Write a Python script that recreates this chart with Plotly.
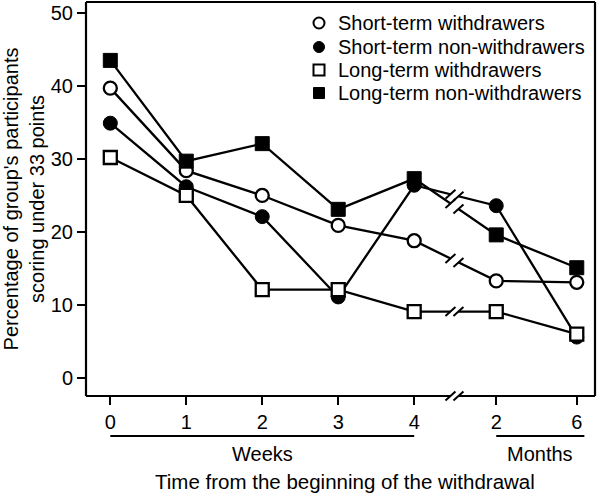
import plotly.graph_objects as go

# ---- data ----
tick_labels = ["0", "1", "2", "3", "4", "2", "6"]
x_pos = [0, 1, 2, 3, 4, 5.08, 6.14]          # axis positions (broken axis)
series_names = ["Short-term withdrawers", "Short-term non-withdrawers",
                "Long-term withdrawers", "Long-term non-withdrawers"]
short_withdrawers = [39.7, 28.4, 25.0, 20.9, 18.8, 13.3, 13.1]
short_non_withdrawers = [34.9, 26.2, 22.1, 11.1, 26.4, 23.6, 5.6]
long_withdrawers = [30.2, 25.0, 12.1, 12.1, 9.1, 9.1, 6.0]
long_non_withdrawers = [43.5, 29.7, 32.1, 23.1, 27.3, 19.6, 15.1]

series = [short_withdrawers, short_non_withdrawers, long_withdrawers, long_non_withdrawers]
symbols = ["circle", "circle", "square", "square"]
fills = ["white", "black", "white", "black"]

FONT = "Liberation Sans, Arial, sans-serif"
FS = 20
XR = [-0.32, 6.38]
YR = [-2.47, 51.5]
W, H = 600, 493
ML, MR, MT, MB = 86, 5, 2, 97
PW, PH = W - ML - MR, H - MT - MB
BREAK_X = 4.53

def px(xd):
    return (xd - XR[0]) / (XR[1] - XR[0])

def py(yd):
    return (yd - YR[0]) / (YR[1] - YR[0])

def ppx(p):   # pixel x -> paper
    return (p - ML) / PW

def ppy(p):   # pixel y -> paper
    return (H - MB - p) / PH

fig = go.Figure()
for name, vals, sym, fc in zip(series_names, series, symbols, fills):
    fig.add_trace(go.Scatter(
        x=x_pos, y=vals, mode="lines+markers", showlegend=False, name=name,
        line=dict(color="black", width=2.3),
        marker=dict(symbol=sym, size=13 if fc == "white" else 14, color=fc,
                    line=dict(color="black", width=2.3 if fc == "white" else 1)),
        cliponaxis=False))

shapes = []
frame = dict(type="line", xref="paper", yref="paper", line=dict(color="black", width=2.2))
shapes.append(dict(frame, x0=0, y0=0, x1=0, y1=1))
shapes.append(dict(frame, x0=0, y0=1, x1=1, y1=1))
shapes.append(dict(frame, x0=1, y0=0, x1=1, y1=1))

dxp = 5.0 / PW
dyp = 4.5 / PH
gap = 4.0 / PW

bx = px(BREAK_X)
shapes.append(dict(frame, x0=0, y0=0, x1=bx - gap, y1=0))
shapes.append(dict(frame, x0=bx + gap, y0=0, x1=1, y1=0))

def add_break(xc, yc, slope_px=0.0):
    dy = slope_px * gap * PW / PH
    shapes.append(dict(type="line", xref="paper", yref="paper",
                       x0=xc - gap, x1=xc + gap, y0=yc - dy, y1=yc + dy,
                       line=dict(color="white", width=4)))
    for s in (-1, 1):
        cx = xc + s * gap
        cy = yc + s * dy
        shapes.append(dict(type="line", xref="paper", yref="paper",
                           x0=cx - dxp, y0=cy - dyp, x1=cx + dxp, y1=cy + dyp,
                           line=dict(color="black", width=2)))

add_break(bx, 0.0)
for vals in series:
    x0, x1 = x_pos[4], x_pos[5]
    y0, y1 = vals[4], vals[5]
    t = (BREAK_X - x0) / (x1 - x0)
    yb = y0 + t * (y1 - y0)
    slope_px = ((py(y1) - py(y0)) * PH) / ((px(x1) - px(x0)) * PW)
    add_break(bx, py(yb), slope_px)

# unit underlines
uy = ppy(436)
shapes.append(dict(type="line", xref="paper", yref="paper", x0=px(0), x1=px(4), y0=uy, y1=uy,
                   line=dict(color="black", width=1.8)))
shapes.append(dict(type="line", xref="paper", yref="paper", x0=px(5.08), x1=px(6.24), y0=uy, y1=uy,
                   line=dict(color="black", width=1.8)))

txt = dict(size=FS, family=FONT, color="black")
annotations = [
    dict(text="Weeks", x=2, xref="x", y=ppy(454), yref="paper",
         showarrow=False, font=txt, yanchor="middle"),
    dict(text="Months", x=(5.08 + 6.24) / 2, xref="x", y=ppy(454), yref="paper",
         showarrow=False, font=txt, yanchor="middle"),
    dict(text="Time from the beginning of the withdrawal", x=ppx(345), xref="paper",
         y=ppy(481), yref="paper", showarrow=False, font=dict(txt, size=20.5), yanchor="middle"),
]

# manual legend
leg_rows = [23, 47, 70, 93]
for name, sym, fc, ry in zip(series_names, symbols, fills, leg_rows):
    annotations.append(dict(text=name, x=ppx(336), xref="paper", y=ppy(ry), yref="paper",
                            xanchor="left", yanchor="middle", showarrow=False, font=txt))
    s = 11
    shapes.append(dict(type="circle" if sym == "circle" else "rect",
                       xref="paper", yref="paper", xsizemode="pixel", ysizemode="pixel",
                       xanchor=ppx(319), yanchor=ppy(ry),
                       x0=-s / 2, x1=s / 2, y0=-s / 2, y1=s / 2,
                       fillcolor=fc, line=dict(color="black", width=2 if fc == "white" else 1)))

fig.update_layout(
    width=W, height=H, margin=dict(l=ML, r=MR, t=MT, b=MB, autoexpand=False),
    plot_bgcolor="white", paper_bgcolor="white",
    font=dict(family=FONT, size=FS, color="black"),
    shapes=shapes, annotations=annotations, showlegend=False,
    xaxis=dict(range=XR, tickvals=x_pos, ticktext=tick_labels, showgrid=False,
               zeroline=False, showline=False, ticks="outside", ticklen=8, tickwidth=2,
               tickcolor="black", tickfont=txt, automargin=False),
    yaxis=dict(range=YR, tickvals=[0, 10, 20, 30, 40, 50], showgrid=False, zeroline=False,
               showline=False, ticks="outside", ticklen=8, tickwidth=2, tickcolor="black",
               tickfont=txt, automargin=False,
               title=dict(text="Percentage of group's participants<br>scoring under 33 points",
                          font=txt)),
)

fig.write_html("out.html", config={"displayModeBar": False},
               post_script="document.body.style.margin='0';")
